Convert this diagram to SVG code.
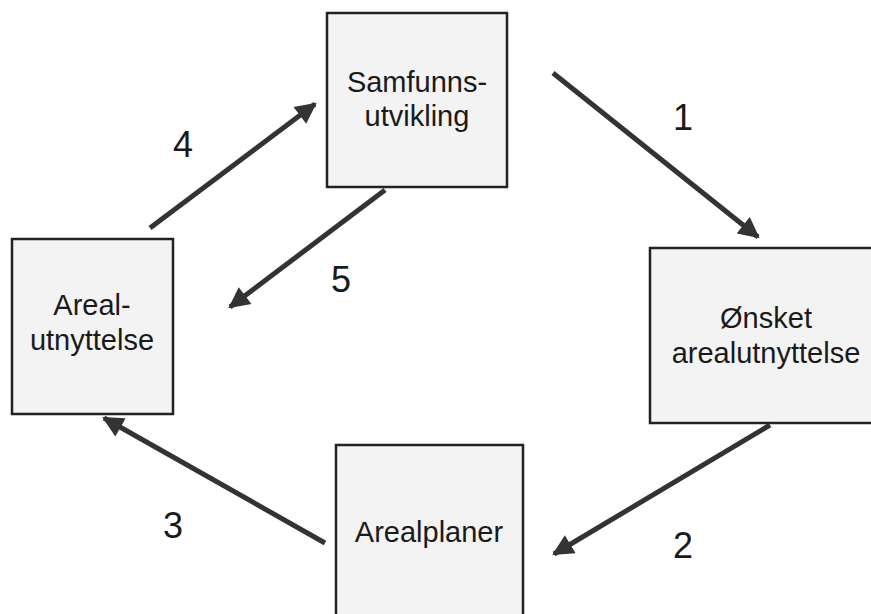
<svg xmlns="http://www.w3.org/2000/svg" width="871" height="614" viewBox="0 0 871 614">
<defs>
<marker id="ah" viewBox="0 0 10 10" refX="9" refY="5" markerWidth="4.4" markerHeight="4.2" orient="auto" markerUnits="strokeWidth">
<path d="M0,0 L10,5 L0,10 Z" fill="#333"/>
</marker>
<style>
.box{fill:#f3f3f3;stroke:#222;stroke-width:2.5}
.t{font-family:"Liberation Sans",Arial,sans-serif;font-size:29px;fill:#1a1a1a;text-anchor:middle}
.n{font-family:"Liberation Sans",Arial,sans-serif;font-size:36px;fill:#1a1a1a;text-anchor:middle}
.c{stroke:#333;stroke-width:5;fill:none;marker-end:url(#ah)}
</style>
</defs>
<rect width="871" height="614" fill="#fff"/>
<g id="samfunnsutvikling">
<rect class="box" x="327" y="13" width="180" height="174"/>
<text class="t" x="417" y="92">Samfunns-</text>
<text class="t" x="417" y="126">utvikling</text>
</g>
<g id="arealutnyttelse">
<rect class="box" x="12" y="239" width="161" height="175"/>
<text class="t" x="92" y="315">Areal-</text>
<text class="t" x="92" y="350">utnyttelse</text>
</g>
<g id="onsket">
<rect class="box" x="650" y="248" width="232" height="175"/>
<text class="t" x="766" y="328">Ønsket</text>
<text class="t" x="766" y="363">arealutnyttelse</text>
</g>
<g id="arealplaner">
<rect class="box" x="336" y="445" width="187" height="180"/>
<text class="t" x="429" y="542">Arealplaner</text>
</g>
<g id="connectors">
<line class="c" x1="553" y1="73" x2="758" y2="237"/>
<line class="c" x1="770" y1="425" x2="554" y2="554"/>
<line class="c" x1="325" y1="543" x2="104" y2="418"/>
<line class="c" x1="150" y1="228" x2="315" y2="104"/>
<line class="c" x1="385" y1="190" x2="230" y2="307"/>
<text class="n" x="683" y="130">1</text>
<text class="n" x="683" y="558">2</text>
<text class="n" x="173" y="538">3</text>
<text class="n" x="183" y="157">4</text>
<text class="n" x="341" y="292">5</text>
</g>
</svg>
